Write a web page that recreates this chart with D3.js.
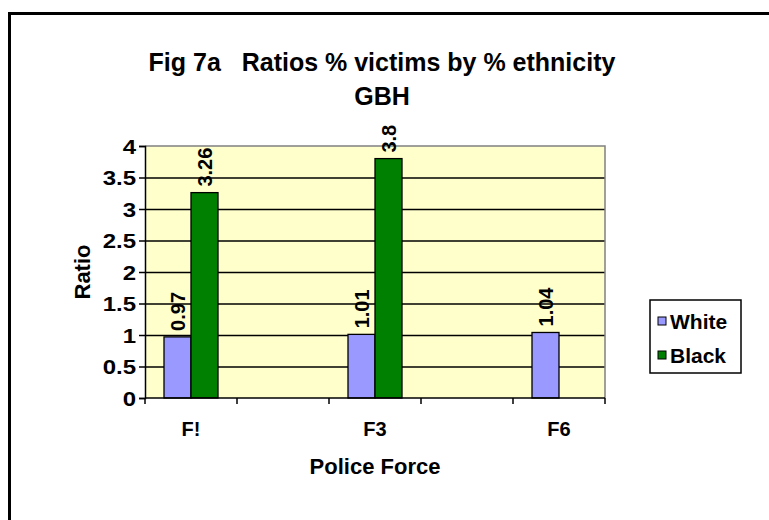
<!DOCTYPE html>
<html>
<head>
<meta charset="utf-8">
<script src="https://cdnjs.cloudflare.com/ajax/libs/d3/7.8.5/d3.min.js"></script>
<style>
  body { margin: 0; background: #fff; }
  text { font-family: Arial, "Liberation Sans", sans-serif; font-weight: bold; fill: #000; }
</style>
</head>
<body>
<div id="chart"></div>
<script>
// Dados
const forces = ['F!', 'F2', 'F3', 'F4', 'F6'];
const shownLabels = ['F!', 'F3', 'F6'];
const seriesNames = ['White', 'Black'];
const whiteValues = [0.97, null, 1.01, null, 1.04];
const blackValues = [3.26, null, 3.8, null, null];
const yTicks = [0, 0.5, 1, 1.5, 2, 2.5, 3, 3.5, 4];
const seriesColors = ['#9999FF', '#008000'];

const W = 769, H = 520;
const svg = d3.select('#chart').append('svg')
    .attr('width', W)
    .attr('height', H);

// Moldura
svg.append('rect')
    .attr('x', 9.5).attr('y', 13.5)
    .attr('width', 900).attr('height', 700)
    .attr('fill', 'none')
    .attr('stroke', '#000')
    .attr('stroke-width', 3);

const plot = {left: 145, right: 605, top: 146, bottom: 398};

const x0 = d3.scaleBand()
    .domain(forces)
    .range([plot.left, plot.right]);

const x1 = d3.scaleBand()
    .domain(seriesNames)
    .range([x0.bandwidth() / 2 - 27, x0.bandwidth() / 2 + 27]);

const y = d3.scaleLinear()
    .domain([0, 4])
    .range([plot.bottom, plot.top]);

const color = d3.scaleOrdinal().domain(seriesNames).range(seriesColors);

// Fundo
svg.append('rect')
    .attr('x', plot.left).attr('y', plot.top)
    .attr('width', plot.right - plot.left)
    .attr('height', plot.bottom - plot.top)
    .attr('fill', '#FFFFCC');

// Grade
svg.append('g')
    .attr('transform', `translate(${plot.left},0)`)
    .call(d3.axisLeft(y).tickValues(yTicks.slice(1, -1)).tickSize(-(plot.right - plot.left)).tickFormat(''))
    .call(g => g.select('.domain').remove())
    .selectAll('line').attr('stroke', '#000').attr('stroke-width', 1.3);

// Borda da área
svg.append('path')
    .attr('d', `M${plot.left},${plot.top}H${plot.right}V${plot.bottom}`)
    .attr('fill', 'none')
    .attr('stroke', '#808080')
    .attr('stroke-width', 1.5);

// Barras
const rows = forces.map((f, i) => ({force: f, values: [whiteValues[i], blackValues[i]]}));

const groups = svg.selectAll('.force-group')
    .data(rows)
    .enter().append('g')
    .attr('class', 'force-group')
    .attr('transform', d => `translate(${x0(d.force)},0)`);

const bars = groups.selectAll('g.bar')
    .data(d => seriesNames.map((s, j) => ({series: s, value: d.values[j]})).filter(d => d.value != null))
    .enter().append('g')
    .attr('class', 'bar');

bars.append('rect')
    .attr('x', d => x1(d.series))
    .attr('y', d => y(d.value))
    .attr('width', x1.bandwidth())
    .attr('height', d => y(0) - y(d.value))
    .attr('fill', d => color(d.series))
    .attr('stroke', '#000')
    .attr('stroke-width', 1.3);

// Rótulos
bars.append('text')
    .attr('transform', d => `translate(${x1(d.series) + x1.bandwidth() / 2 + 7},${y(d.value) - 6}) rotate(-90)`)
    .style('font-size', '20px')
    .text(d => d.value);

// Eixos
const yAxis = svg.append('g')
    .attr('transform', `translate(${plot.left},0)`)
    .call(d3.axisLeft(y).tickValues(yTicks).tickSize(6).tickFormat(d => d));
yAxis.selectAll('text')
    .style('font-size', '20px')
    .attr('x', -7.5)
    .attr('dy', '0.36em')
    .attr('transform', 'scale(1.2,1)');
yAxis.selectAll('line, path').attr('stroke', '#000').attr('stroke-width', 1.5);

const bounds = forces.map(f => x0(f)).concat([plot.right]);
const xAxis = svg.append('g')
    .attr('transform', `translate(0,${plot.bottom})`);
xAxis.append('path')
    .attr('d', `M${plot.left},0H${plot.right}`)
    .attr('stroke', '#000').attr('stroke-width', 1.5);
xAxis.selectAll('line')
    .data(bounds)
    .enter().append('line')
    .attr('x1', d => d).attr('x2', d => d)
    .attr('y1', 0).attr('y2', 6)
    .attr('stroke', '#000').attr('stroke-width', 1.5);
xAxis.selectAll('text')
    .data(shownLabels)
    .enter().append('text')
    .attr('x', d => x0(d) + x0.bandwidth() / 2)
    .attr('y', 38)
    .attr('text-anchor', 'middle')
    .style('font-size', '20px')
    .text(d => d);

// Títulos
svg.append('text')
    .attr('x', 382).attr('y', 71)
    .attr('text-anchor', 'middle')
    .style('font-size', '25px')
    .attr('xml:space', 'preserve')
    .text('Fig 7a   Ratios % victims by % ethnicity');

svg.append('text')
    .attr('x', 382).attr('y', 105)
    .attr('text-anchor', 'middle')
    .style('font-size', '25px')
    .text('GBH');

svg.append('text')
    .attr('x', 375).attr('y', 474)
    .attr('text-anchor', 'middle')
    .style('font-size', '22px')
    .text('Police Force');

svg.append('text')
    .attr('transform', `translate(90,${(plot.top + plot.bottom) / 2}) rotate(-90)`)
    .attr('text-anchor', 'middle')
    .style('font-size', '22px')
    .text('Ratio');

// Legenda
const legend = svg.append('g')
    .attr('transform', 'translate(650,300)');
legend.append('rect')
    .attr('width', 91).attr('height', 73)
    .attr('fill', '#fff')
    .attr('stroke', '#000')
    .attr('stroke-width', 1.5);

seriesNames.forEach((s, i) => {
    const lg = legend.append('g')
        .attr('transform', `translate(8, ${21 + i * 34})`);
    lg.append('rect')
        .attr('x', 0).attr('y', -4)
        .attr('width', 8).attr('height', 8)
        .attr('fill', color(s))
        .attr('stroke', '#000');
    lg.append('text')
        .attr('x', 12)
        .attr('dy', '.36em')
        .style('font-size', '21px')
        .text(s);
});
</script>
</body>
</html>
